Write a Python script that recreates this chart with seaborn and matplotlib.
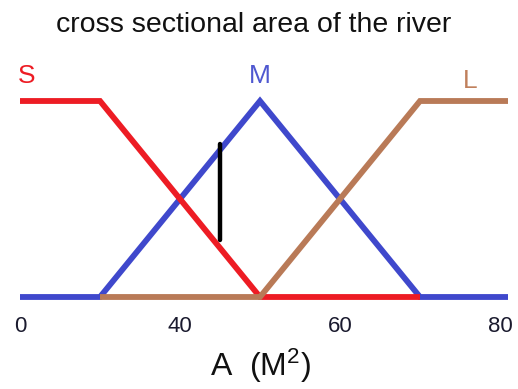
import numpy as np
import pandas as pd
import matplotlib
matplotlib.use("Agg")
import matplotlib.pyplot as plt
import seaborn as sns

# ---- data ----
s_x = [0, 30, 50, 70]
s_y = [1, 1, 0, 0]
m_x = [0, 30, 50, 70, 81]
m_y = [0, 0, 1, 0, 0]
l_x = [30, 50, 70, 81]
l_y = [0, 0, 1, 1]
marker_x = [45, 45]
marker_y = [0.29, 0.78]
tick_vals = [0, 40, 60, 80]
tick_labels = ["0", "40", "60", "80"]
set_names = ["S", "M", "L"]
title = "cross sectional area of the river"

colors = {"S": "#ED1C24", "M": "#3F48CC", "L": "#B97A57"}

df = pd.concat([
    pd.DataFrame({"x": s_x, "y": s_y, "set": "S"}),
    pd.DataFrame({"x": m_x, "y": m_y, "set": "M"}),
    pd.DataFrame({"x": l_x, "y": l_y, "set": "L"}),
], ignore_index=True)

sns.set_style("white")
plt.rcParams["font.family"] = ["Liberation Sans", "DejaVu Sans"]
plt.rcParams["mathtext.fontset"] = "custom"
plt.rcParams["mathtext.rm"] = "Liberation Sans"
plt.rcParams["mathtext.it"] = "Liberation Sans"

fig = plt.figure(figsize=(5.18, 3.89), dpi=100)
ax = fig.add_axes([0, 92 / 389, 1, 196 / 389])

sns.lineplot(data=df, x="x", y="y", hue="set", hue_order=["M", "S", "L"],
             palette=colors, sort=False, estimator=None, linewidth=4.2,
             legend=False, ax=ax, clip_on=False, solid_capstyle="butt",
             solid_joinstyle="miter")
sns.lineplot(x=marker_x, y=marker_y, color="black", linewidth=3.2,
             ax=ax, clip_on=False, estimator=None, sort=False)


def fwd(x):
    x = np.asarray(x, dtype=float)
    return np.where(x < 30, 20 + x / 3.0, x)


def inv(y):
    y = np.asarray(y, dtype=float)
    return np.where(y < 30, (y - 20) * 3.0, y)


ax.set_xscale("function", functions=(fwd, inv))
ax.set_xlim(-7.5, 82.25)
ax.set_ylim(0, 1)
ax.set_yticks([])
ax.set_xticks(tick_vals)
ax.set_xticklabels(tick_labels, fontsize=16, color="#1a1a2e")
ax.tick_params(axis="x", length=0, pad=14)
ax.xaxis.set_minor_locator(matplotlib.ticker.NullLocator())
sns.despine(ax=ax, left=True, bottom=True)
ax.set_xlabel("")
ax.set_ylabel("")
ax.patch.set_alpha(0)

ax.text(0.502, -0.255, r"A  (M$^{2}$)", transform=ax.transAxes,
        fontsize=23, ha="center", va="top", color="#111111")

label_pos = {"S": (2.6, 1.13), "M": (50, 1.13), "L": (76.25, 1.10)}
label_col = {"S": "#ED1C24", "M": "#4F58D0", "L": "#C0805C"}
for name in set_names:
    px, py = label_pos[name]
    ax.text(px, py, name, fontsize=19, ha="center", va="center",
            color=label_col[name])

fig.text(254 / 518, 1 - 32 / 389, title, fontsize=20.5, ha="center",
         va="baseline", color="#111111")

fig.savefig("out.png", dpi=100, facecolor="white")
